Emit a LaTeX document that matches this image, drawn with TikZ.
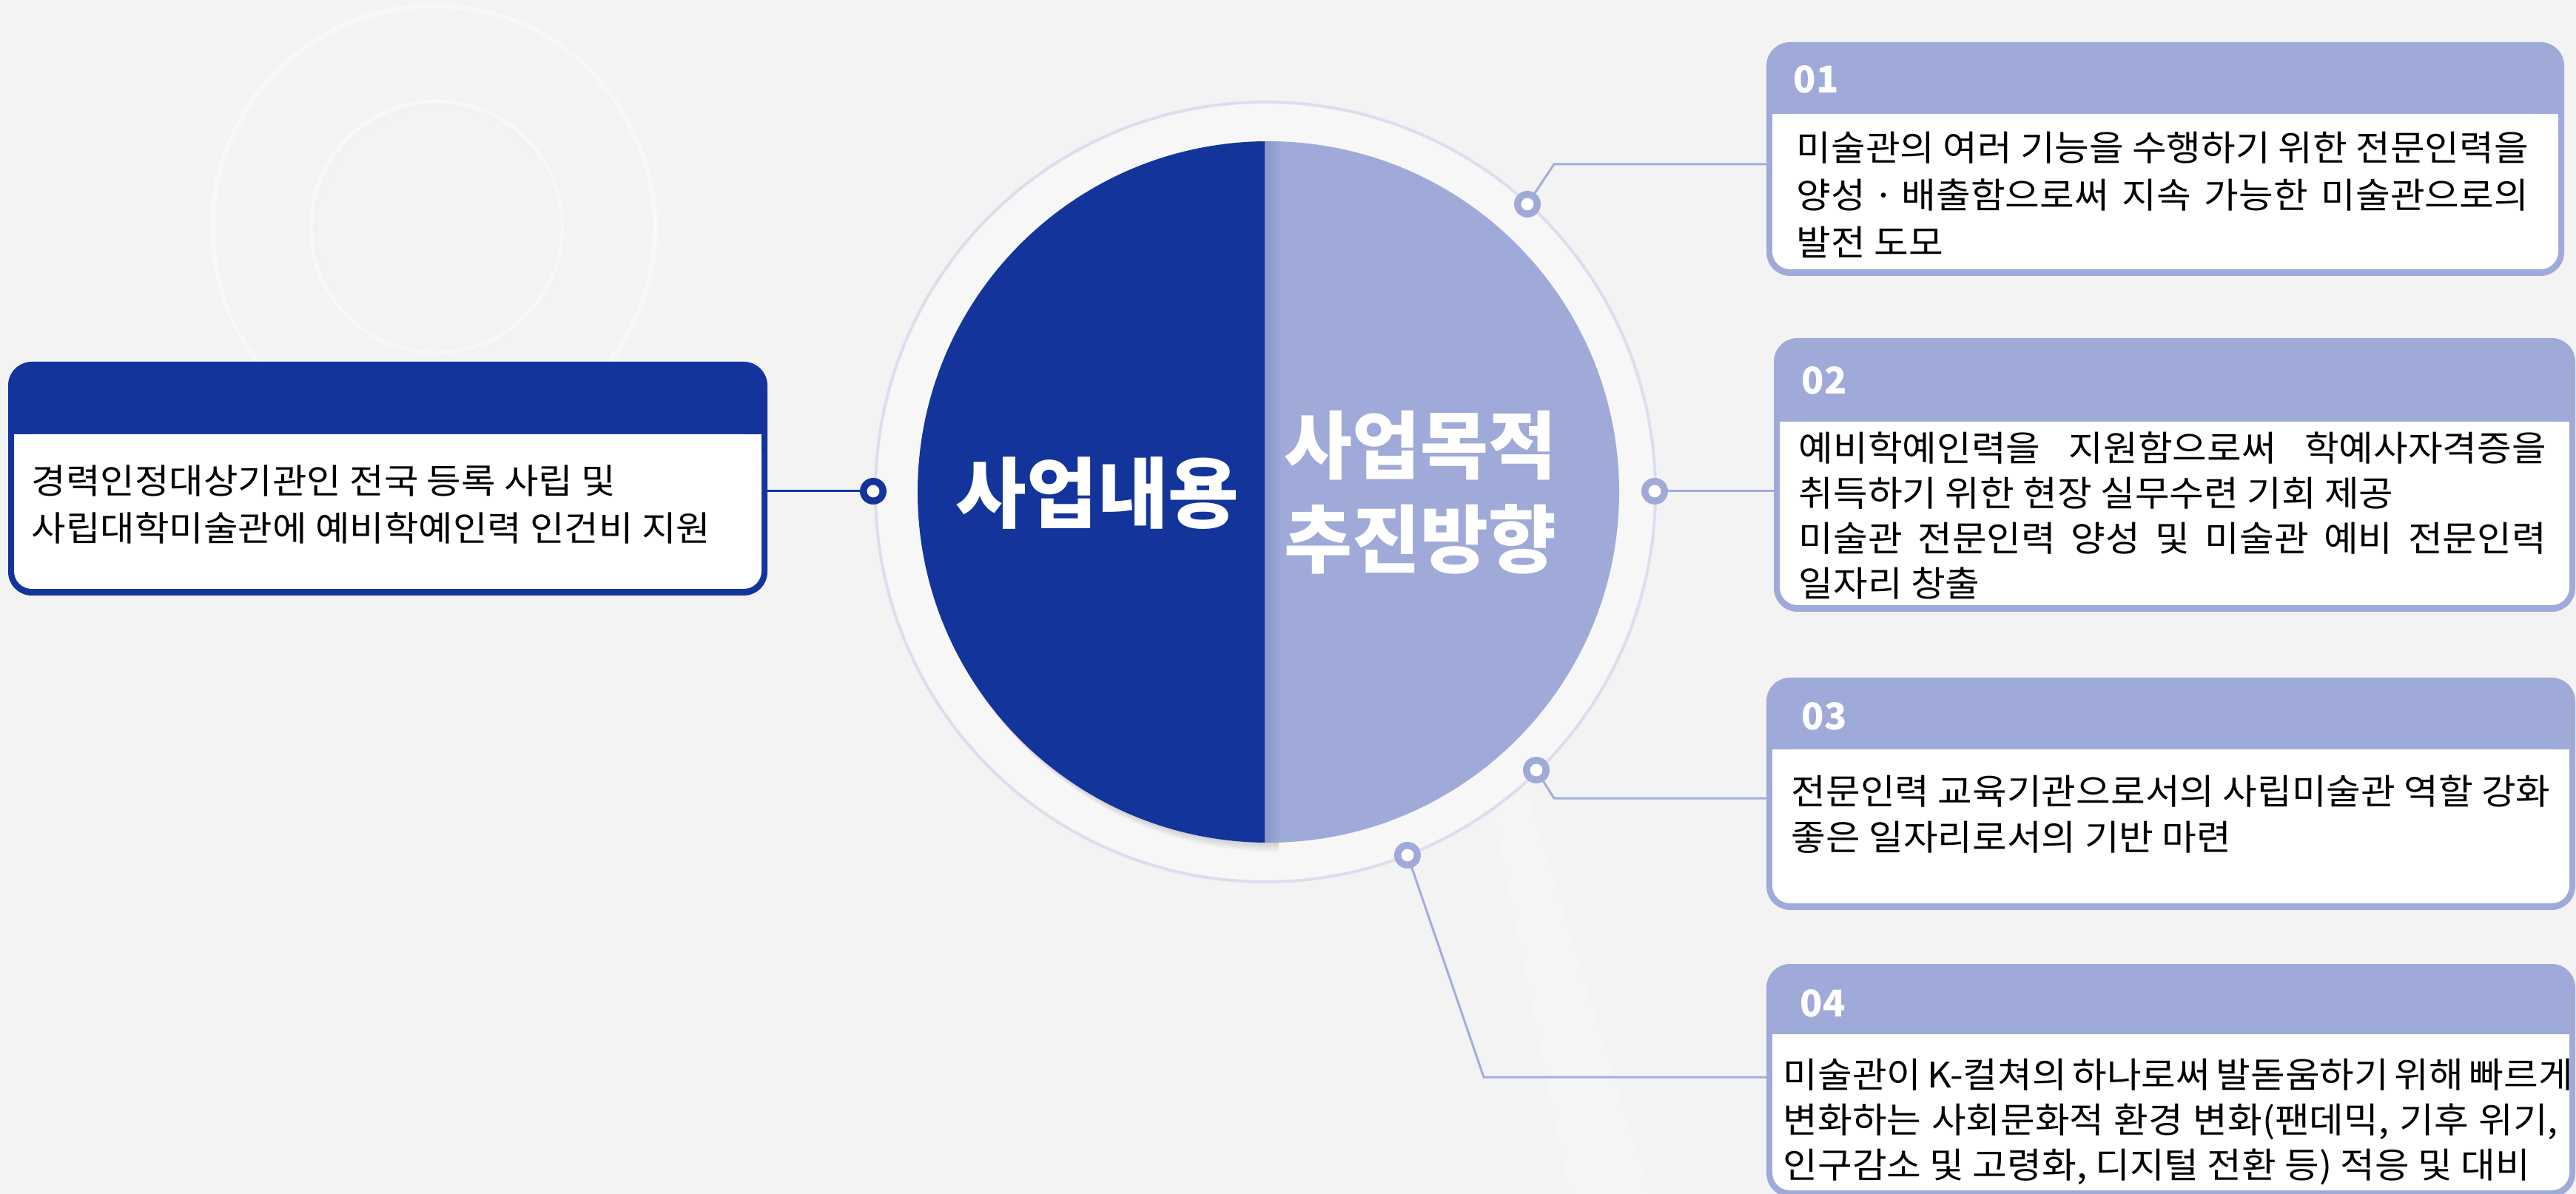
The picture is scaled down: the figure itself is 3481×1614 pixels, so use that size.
\documentclass[tikz,border=0pt]{standalone}
\usepackage{fontspec}
\setmainfont{Noto Sans CJK KR}
\newfontfamily\bodyfont[FakeStretch=1.066]{Noto Sans CJK KR}
\newfontfamily\leftfont[FakeStretch=1.08]{Noto Sans CJK KR}
\definecolor{bg}{HTML}{F3F3F3}
\definecolor{navy}{HTML}{13359B}
\definecolor{lav}{HTML}{9FAAD8}
\definecolor{lavdark}{HTML}{8A94C4}
\definecolor{ringline}{HTML}{DCDEEE}
\definecolor{ringfill}{HTML}{F7F7F8}
\definecolor{conn}{HTML}{A3ADDA}
\newcommand\jline[2]{\makebox[#1][s]{#2}}
\newcommand\infobox[6]{%
  \fill[#6, rounded corners=8pt] (#1,#2) rectangle (#3,#4);
  \fill[white, rounded corners=6pt] (#1+8,#5) rectangle (#3-8,#4-9);
  \fill[white] (#1+8,#5) rectangle (#3-8,#5+40);
}
\tikzset{
  dotlav/.style={circle, fill=lav, minimum size=9pt, inner sep=0pt},
  dotnavy/.style={circle, fill=navy, minimum size=9pt, inner sep=0pt},
  dothole/.style={circle, fill=white, minimum size=4.2pt, inner sep=0pt},
  conline/.style={draw=conn, line width=0.75pt},
  navyline/.style={draw=navy, line width=0.75pt},
  numtext/.style={anchor=west, inner sep=0pt, text=white, font=\fontsize{12.5}{14}\selectfont\bfseries},
  bodytext/.style={anchor=north west, inner sep=0pt, align=left, text=black},
}
\begin{document}
\begin{tikzpicture}[x=0.25pt, y=-0.25pt]
\useasboundingbox (0,0) rectangle (3481,1614);
\clip (0,0) rectangle (3481,1614);
\fill[bg] (0,0) rectangle (3481,1614);

% faint decorative circles (top left)
\draw[white, line width=1.5pt, opacity=0.45] (586,307) circle (74.75pt);
\draw[black!4, line width=0.5pt] (590,311) circle (74.75pt);
\draw[black!5, line width=0.7pt] (593,311) circle (41.75pt);
\draw[white, line width=1.2pt, opacity=0.45] (590,307) circle (42.5pt);

% faint light beam
\fill[white, opacity=0.18] (2000,1010) -- (2045,1010) -- (2230,1614) -- (2120,1614) -- cycle;

% ring
\fill[ringfill] (1710,665) circle (131.75pt);
\draw[ringline, line width=1pt] (1710,665) circle (131.75pt);

% shadow of the dark half
\begin{scope}
  \clip (0,0) rectangle (1728,1614);
  \foreach \k in {1,2,3,4} {
    \fill[black, opacity=0.035] (1714+2*\k,665+3*\k) circle (118.5pt);
  }
\end{scope}

% main circle halves
\begin{scope}
  \clip (0,0) rectangle (1709,1614);
  \fill[navy] (1714,665) circle (118.5pt);
\end{scope}
\begin{scope}
  \clip (1709,0) rectangle (3481,1614);
  \fill[lav] (1714,665) circle (118.5pt);
  \clip (1714,665) circle (118.5pt);
  \shade[left color=lavdark, right color=lav] (1709,150) rectangle (1732,1180);
\end{scope}

\node[text=white, font=\fontsize{26}{30}\selectfont\bfseries] (lefttitle) at (1483,667) {사업내용};
\node[text=white, align=center, font=\fontsize{25}{31.75}\selectfont\bfseries] (righttitle) at (1919,666) {사업목적\\추진방향};

% boxes
\infobox{11}{489}{1037}{805}{587}{navy}
\infobox{2387}{57}{3465}{373}{154}{lav}
\infobox{2397}{457}{3480}{827}{570}{lav}
\infobox{2387}{916}{3480}{1230}{1013}{lav}
\infobox{2387}{1303}{3480}{1618}{1398}{lav}

% connection points
\coordinate (lbox) at (1037,664);
\coordinate (b1) at (2387,222);
\coordinate (b2) at (2397,664);
\coordinate (b3) at (2387,1079);
\coordinate (b4) at (2387,1456);
\coordinate (k1) at (2100,222);
\coordinate (k3) at (2100,1079);
\coordinate (k4) at (2005,1456);
\coordinate (p0) at (1180,664);
\coordinate (p1) at (2064,276);
\coordinate (p2) at (2236,664);
\coordinate (p3) at (2076,1041);
\coordinate (p4) at (1902,1156);

% connectors
\draw[navyline] (lbox) -- (p0);
\draw[conline] (p1) -- (k1) -- (b1);
\draw[conline] (p2) -- (b2);
\draw[conline] (p3) -- (k3) -- (b3);
\draw[conline] (p4) -- (k4) -- (b4);

% dots
\node[dotnavy] (dot0) at (p0) {};
\node[dothole] (hole0) at (p0) {};
\node[dotlav] (dot1) at (p1) {};
\node[dothole] (hole1) at (p1) {};
\node[dotlav] (dot2) at (p2) {};
\node[dothole] (hole2) at (p2) {};
\node[dotlav] (dot3) at (p3) {};
\node[dothole] (hole3) at (p3) {};
\node[dotlav] (dot4) at (p4) {};
\node[dothole] (hole4) at (p4) {};

% numbers
\node[numtext] (n1) at (2423,107) {01};
\node[numtext] (n2) at (2434,514) {02};
\node[numtext] (n3) at (2434,968) {03};
\node[numtext] (n4) at (2432,1356) {04};

% texts
\node[bodytext, font=\leftfont\fontsize{11.7}{16}\selectfont] (t0) at (42,628)
  {경력인정대상기관인 전국 등록 사립 및\\사립대학미술관에 예비학예인력 인건비 지원};
\node[bodytext, font=\bodyfont\fontsize{11.9}{16}\selectfont] (t1) at (2427,177)
  {\jline{247.25pt}{미술관의 여러 기능을 수행하기 위한 전문인력을}\\
   \jline{247.25pt}{양성\kern2.5pt·\kern2.5pt배출함으로써 지속 가능한 미술관으로의}\\
   발전 도모};
\node[bodytext, font=\bodyfont\fontsize{11.9}{15.25}\selectfont] (t2) at (2430,583)
  {\jline{252.5pt}{예비학예인력을 지원함으로써 학예사자격증을}\\
   취득하기 위한 현장 실무수련 기회 제공\\
   \jline{252.5pt}{미술관 전문인력 양성 및 미술관 예비 전문인력}\\
   일자리 창출};
\node[bodytext, font=\bodyfont\fontsize{11.9}{15.6}\selectfont] (t3) at (2420,1047)
  {전문인력 교육기관으로서의 사립미술관 역할 강화\\
   좋은 일자리로서의 기반 마련};
\node[bodytext, font=\bodyfont\fontsize{11.9}{15.25}\selectfont] (t4) at (2409,1430)
  {\jline{261.75pt}{미술관이 K-컬쳐의 하나로써 발돋움하기 위해 빠르게}\\
   \jline{261.75pt}{변화하는 사회문화적 환경 변화(팬데믹, 기후 위기,}\\
   인구감소 및 고령화, 디지털 전환 등) 적응 및 대비};
\end{tikzpicture}
\end{document}
